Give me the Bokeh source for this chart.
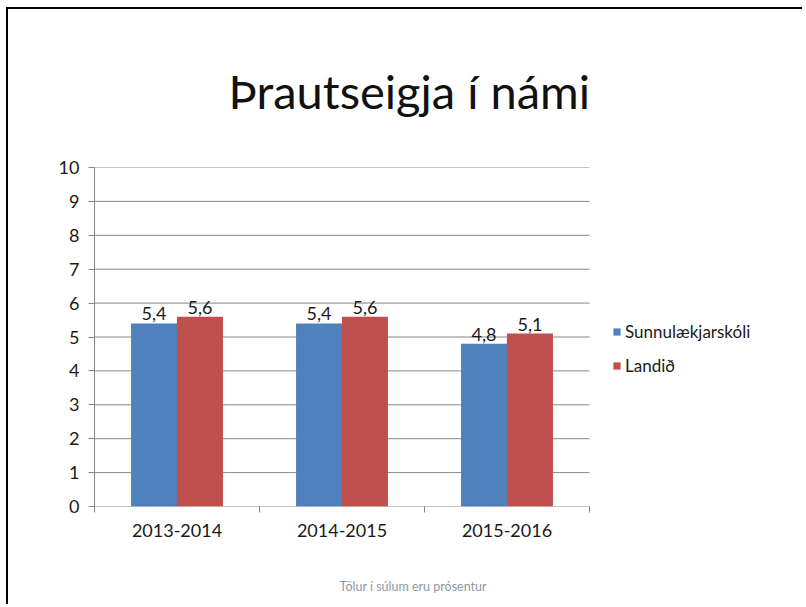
from bokeh.plotting import figure
from bokeh.models import (ColumnDataSource, FixedTicker, Range1d, Legend, LegendItem,
                          Title)
from bokeh.core.properties import value
from bokeh.embed import file_html
from bokeh.resources import INLINE

categories = ["2013-2014", "2014-2015", "2015-2016"]
sunnu = [5.4, 5.4, 4.8]
landid = [5.6, 5.6, 5.1]
series_names = ["Sunnulækjarskóli", "Landið"]
title_text = "Þrautseigja í námi"
footnote_text = "Tölur í súlum eru prósentur"
y_ticks = list(range(0, 11))

FONT = "Lato"
BLUE = "#4F81BD"
RED = "#C0504D"
GRID = "#878787"

n = len(categories)
centers = [i + 0.5 for i in range(n)]
off = 0.139
w = 0.279

# plot area: data part is 495 px wide (0..n); frame extends right to hold the legend
DATA_PX = 495
FRAME_PX = 696
x_end = n * FRAME_PX / DATA_PX

src_a = ColumnDataSource(dict(x=[c - off for c in centers], top=sunnu,
                              lab=[f"{v:.1f}".replace(".", ",") for v in sunnu]))
src_b = ColumnDataSource(dict(x=[c + off for c in centers], top=landid,
                              lab=[f"{v:.1f}".replace(".", ",") for v in landid]))
grid_src = ColumnDataSource(dict(x0=[0] * len(y_ticks), x1=[n] * len(y_ticks),
                                 y=y_ticks))

p = figure(width=796, height=597, output_backend="svg", toolbar_location=None,
           x_range=Range1d(0, x_end), y_range=Range1d(0, 10),
           min_border_left=86, min_border_right=796 - 86 - FRAME_PX,
           min_border_top=158, min_border_bottom=100)
p.styles = {"margin-left": "6px", "margin-top": "7px",
            "border-top": "2px solid black", "border-left": "2px solid black"}
p.outline_line_color = None
p.background_fill_color = "white"
p.border_fill_color = "white"
p.xgrid.grid_line_color = None
p.ygrid.grid_line_color = None

# gridlines (and the x axis line at 0) across the data part only
p.segment(x0="x0", x1="x1", y0="y", y1="y", source=grid_src,
          line_color=GRID, line_width=1)

r1 = p.vbar(x="x", top="top", width=w, bottom=0, source=src_a,
            fill_color=BLUE, line_color=None)
r2 = p.vbar(x="x", top="top", width=w, bottom=0, source=src_b,
            fill_color=RED, line_color=None)

for s in (src_a, src_b):
    p.text(x="x", y="top", text="lab", source=s, text_align="center",
           text_baseline="bottom", y_offset=-3, text_font_size="18px",
           text_color="#1a1a1a", text_font=value(FONT))

# y axis
p.yaxis.ticker = FixedTicker(ticks=y_ticks, minor_ticks=[])
p.yaxis.axis_line_color = GRID
p.yaxis.major_tick_line_color = GRID
p.yaxis.major_tick_out = 6
p.yaxis.major_tick_in = 0
p.yaxis.minor_tick_line_color = None
p.yaxis.major_label_standoff = 9
p.yaxis.major_label_text_font = FONT
p.yaxis.major_label_text_font_size = "18px"
p.yaxis.major_label_text_color = "#1a1a1a"

# x axis (category separators as minor ticks)
p.xaxis.ticker = FixedTicker(ticks=centers, minor_ticks=list(range(n + 1)))
p.xaxis.major_label_overrides = {c: categories[i] for i, c in enumerate(centers)}
p.xaxis.axis_line_color = None
p.xaxis.major_tick_line_color = None
p.xaxis.major_tick_out = 6
p.xaxis.major_tick_in = 0
p.xaxis.minor_tick_line_color = GRID
p.xaxis.minor_tick_out = 6
p.xaxis.minor_tick_in = 0
p.xaxis.major_label_standoff = 11
p.xaxis.major_label_text_font = FONT
p.xaxis.major_label_text_font_size = "18px"
p.xaxis.major_label_text_color = "#1a1a1a"

legend = Legend(items=[LegendItem(label=series_names[0], renderers=[r1]),
                       LegendItem(label=series_names[1], renderers=[r2])],
                location=(518, 130), orientation="vertical",
                glyph_width=9, glyph_height=9, label_standoff=4,
                label_height=20, spacing=13, padding=0, margin=0,
                border_line_color=None, background_fill_alpha=0,
                label_text_font=FONT, label_text_font_size="17px",
                label_text_color="#1a1a1a")
p.add_layout(legend, "center")

p.title = Title(text=title_text, align="left", offset=134, standoff=98,
                vertical_align="bottom", text_font=FONT, text_font_size="47px",
                text_font_style="normal", text_color="#111111")

p.add_layout(Title(text="\n\n" + footnote_text, align="left", offset=245, standoff=14,
                   vertical_align="bottom", text_font=FONT, text_font_size="12.5px",
                   text_font_style="normal", text_color="#8f97a3"), "below")

open("out.html", "w").write(file_html(p, INLINE))
